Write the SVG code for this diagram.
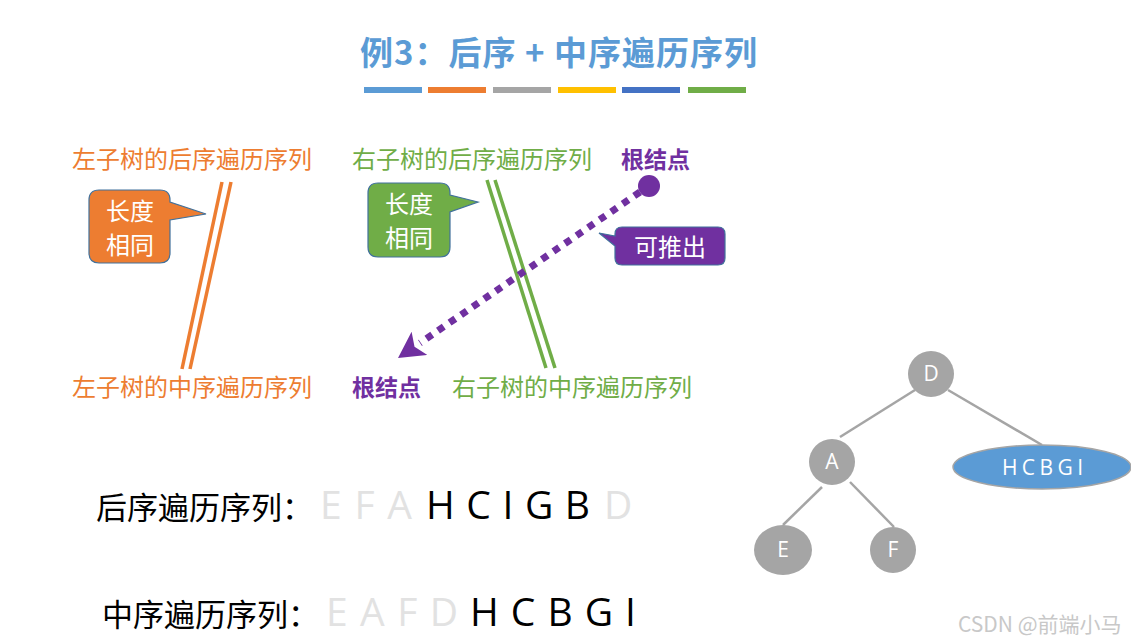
<svg xmlns="http://www.w3.org/2000/svg" width="1131" height="644" viewBox="0 0 1131 644">
<defs>
<style>
.cjk{font-family:"Noto Sans CJK SC","Liberation Sans",sans-serif;}
.lat{font-family:"Open Sans","Liberation Sans",sans-serif;}
.or{fill:#ED7D31;font-size:24px;}
.gr{fill:#70AD47;font-size:24px;}
.pu{fill:#7030A0;font-size:23px;font-weight:bold;}
.cw{fill:#FFFFFF;font-size:24px;text-anchor:middle;}
.lt{fill:#E2E2E2;}
.bk{fill:#000000;}
.node{fill:#A5A5A5;}
.nt{fill:#FFFFFF;font-size:21px;text-anchor:middle;}
.edge{stroke:#A5A5A5;stroke-width:2.5;fill:none;}
</style>
<marker id="ah" markerUnits="userSpaceOnUse" markerWidth="30" markerHeight="30" refX="26" refY="14" orient="auto">
<path d="M0,0 L26,14 L0,28 L6,14 Z" fill="#7030A0"/>
</marker>
</defs>
<rect width="1131" height="644" fill="#FFFFFF"/>

<g id="title">
<text class="cjk" x="360" y="65" font-size="33" font-weight="bold" fill="#5B9BD5" textLength="397" lengthAdjust="spacing">例3：后序 + 中序遍历序列</text>
<rect x="364" y="87" width="58" height="6" fill="#5B9BD5"/>
<rect x="428" y="87" width="58" height="6" fill="#ED7D31"/>
<rect x="493" y="87" width="58" height="6" fill="#A5A5A5"/>
<rect x="558" y="87" width="58" height="6" fill="#FFC000"/>
<rect x="622" y="87" width="58" height="6" fill="#4472C4"/>
<rect x="688" y="87" width="58" height="6" fill="#70AD47"/>
</g>

<g id="labels">
<text class="cjk or" x="72" y="168">左子树的后序遍历序列</text>
<text class="cjk gr" x="352" y="168">右子树的后序遍历序列</text>
<text class="cjk pu" x="621" y="168">根结点</text>
<text class="cjk or" x="72" y="396">左子树的中序遍历序列</text>
<text class="cjk pu" x="352" y="396">根结点</text>
<text class="cjk gr" x="452" y="396">右子树的中序遍历序列</text>
</g>

<g id="connectors">
<line x1="222" y1="182" x2="182" y2="369" stroke="#ED7D31" stroke-width="3.5"/>
<line x1="231" y1="182" x2="190" y2="369" stroke="#ED7D31" stroke-width="3.5"/>
<line x1="487" y1="180" x2="546" y2="368" stroke="#70AD47" stroke-width="3.5"/>
<line x1="495" y1="180" x2="555" y2="368" stroke="#70AD47" stroke-width="3.5"/>
<circle cx="649" cy="186" r="11" fill="#7030A0"/>
<line x1="640" y1="192" x2="420" y2="343" stroke="#7030A0" stroke-width="7" stroke-dasharray="7 7"/>
<path d="M420,343 L398,358" stroke="none" fill="none" marker-end="url(#ah)"/>
</g>

<g id="callout-orange">
<path d="M99,190 H160 Q170,190 170,200 V202 L206,214 L170,220 V253 Q170,263 160,263 H99 Q89,263 89,253 V200 Q89,190 99,190 Z" fill="#ED7D31" stroke="#41719C" stroke-width="1.2"/>
<text class="cjk cw" x="130" y="220">长度</text>
<text class="cjk cw" x="130" y="254">相同</text>
</g>

<g id="callout-green">
<path d="M378,183 H440 Q450,183 450,193 V195 L478,202 L450,212 V247 Q450,257 440,257 H378 Q368,257 368,247 V193 Q368,183 378,183 Z" fill="#70AD47" stroke="#41719C" stroke-width="1.2"/>
<text class="cjk cw" x="409" y="213">长度</text>
<text class="cjk cw" x="409" y="247">相同</text>
</g>

<g id="callout-purple">
<path d="M622,227 H718 Q725,227 725,234 V258 Q725,265 718,265 H622 Q615,265 615,258 V246 L599,233 L615,236 V234 Q615,227 622,227 Z" fill="#7030A0" stroke="#41719C" stroke-width="1.2"/>
<text class="cjk cw" x="670" y="256">可推出</text>
</g>

<g id="sequences">
<text class="cjk" x="96" y="519" font-size="31" fill="#000">后序遍历序列：</text>
<text class="lat lt" x="320" y="519" font-size="39" textLength="92" lengthAdjust="spacing" xml:space="preserve">E F A</text>
<text class="lat bk" x="426" y="519" font-size="39" textLength="164" lengthAdjust="spacing" xml:space="preserve">H C I G B</text>
<text class="lat lt" x="604" y="519" font-size="39">D</text>
<text class="cjk" x="102" y="626" font-size="31" fill="#000">中序遍历序列：</text>
<text class="lat lt" x="326" y="626" font-size="39" textLength="132" lengthAdjust="spacing" xml:space="preserve">E A F D</text>
<text class="lat bk" x="470" y="626" font-size="39" textLength="166" lengthAdjust="spacing" xml:space="preserve">H C B G I</text>
</g>

<g id="tree-edges">
<line class="edge" x1="915" y1="390" x2="840" y2="437"/>
<line class="edge" x1="948" y1="390" x2="1042" y2="445"/>
<line class="edge" x1="822" y1="487" x2="783" y2="525"/>
<line class="edge" x1="850" y1="482" x2="894" y2="527"/>
</g>

<g id="node-D">
<circle class="node" cx="931" cy="374" r="23"/>
<text class="lat nt" x="931" y="381">D</text>
</g>
<g id="node-A">
<circle class="node" cx="832" cy="462" r="23"/>
<text class="lat nt" x="832" y="469">A</text>
</g>
<g id="node-E">
<ellipse class="node" cx="783" cy="550" rx="29" ry="25"/>
<text class="lat nt" x="783" y="557">E</text>
</g>
<g id="node-F">
<circle class="node" cx="893" cy="550" r="23"/>
<text class="lat nt" x="893" y="557">F</text>
</g>
<g id="node-HCBGI">
<ellipse cx="1042" cy="467" rx="89" ry="22" fill="#5B9BD5" stroke="#A5A5A5" stroke-width="1.5"/>
<text class="lat" x="1002" y="475" font-size="21" fill="#FFFFFF" textLength="81" lengthAdjust="spacing" xml:space="preserve">H C B G I</text>
</g>

<g id="watermark">
<text class="cjk" x="958" y="632" font-size="21" fill="#C8C8C8">CSDN @前端小马</text>
</g>
</svg>
